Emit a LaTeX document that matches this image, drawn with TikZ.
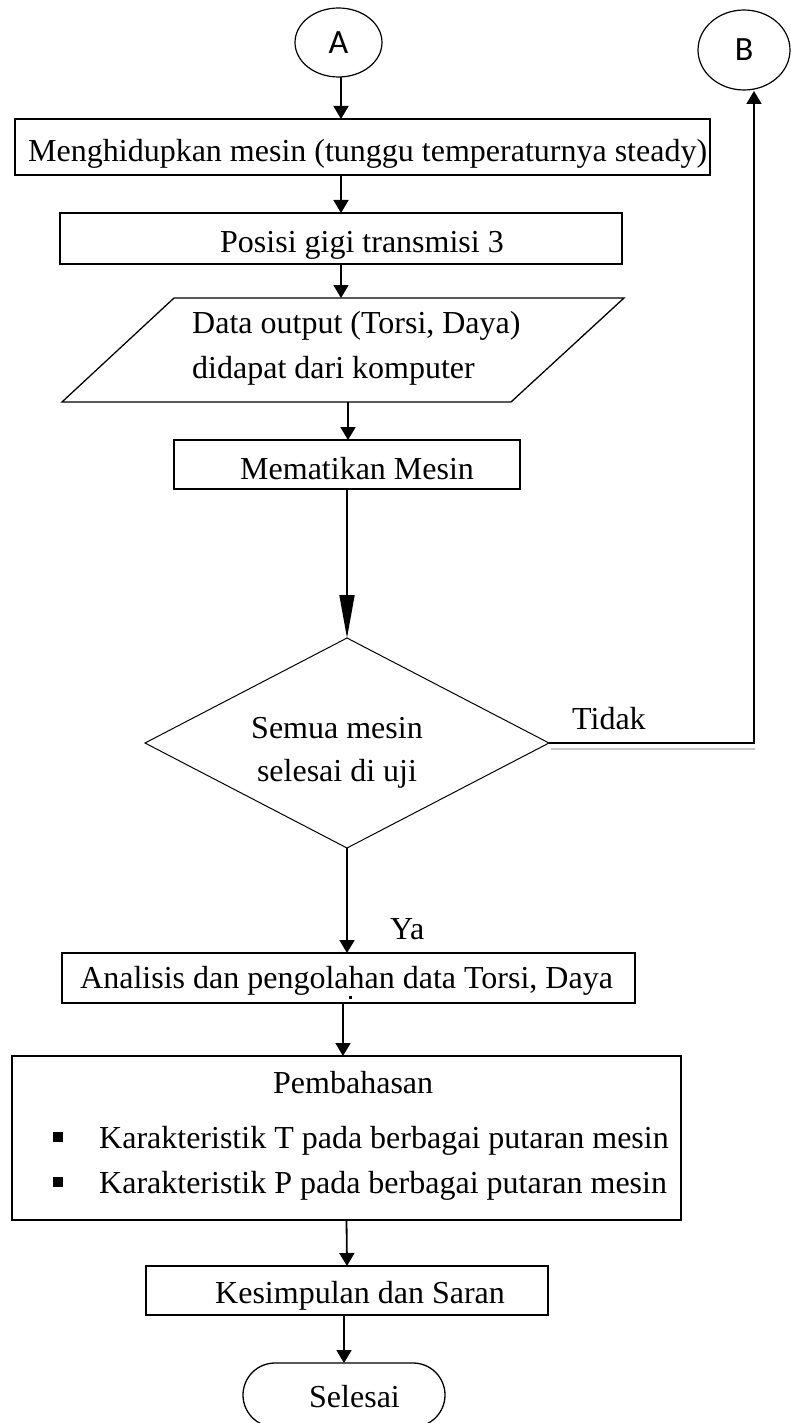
\documentclass[tikz,border=0pt]{standalone}
\usepackage{fontspec}
\setmainfont{Liberation Serif}
\newfontfamily\calib{Carlito}
\usetikzlibrary{shapes.geometric,arrows.meta,calc}
\begin{document}
\begin{tikzpicture}[x=1pt,y=-1pt,
  box/.style={draw, line width=1.6pt, inner sep=0pt, outer sep=0pt},
  ell/.style={draw, ellipse, line width=1.2pt, inner sep=0pt, outer sep=0pt, font=\calib\fontsize{34}{40}\selectfont},
  arr/.style={line width=1.8pt, -{Triangle[length=13pt,width=15pt]}},
  bigarr/.style={line width=1.8pt, -{Triangle[length=43pt,width=15pt]}},
  txt/.style={inner sep=0pt, anchor=base west, font=\fontsize{32}{38}\selectfont},
  txtc/.style={inner sep=0pt, anchor=base, font=\fontsize{32}{38}\selectfont}]
\useasboundingbox (0,0) rectangle (790,1423);
% column coordinates
\coordinate (c341) at (341,0);
\coordinate (c348) at (348,0);
\coordinate (c343) at (343,0);
\coordinate (c344) at (344,0);
\coordinate (c754) at (754,0);
% connectors' shapes
\node[ell, minimum width=87pt, minimum height=69pt] (A) at (338.5,42.5) {A};
\node[ell, minimum width=92pt, minimum height=80pt] (B) at (744,50) {B};
\node[box, minimum width=695pt, minimum height=56pt] (b1) at (362.5,147) {};
\node[txt] (t1) at (28,162) {Menghidupkan mesin (tunggu temperaturnya steady)};
\node[box, minimum width=562pt, minimum height=51pt] (b2) at (341,238.5) {};
\node[txt] (t2) at (220,252) {Posisi gigi transmisi 3};
\node[inner sep=0pt, outer sep=0pt, minimum width=562pt, minimum height=104pt] (para) at (343,350) {};
\draw[line width=1.3pt] ($(para.north west)+(112,0)$) -- (para.north east) -- ($(para.south east)+(-113,0)$) -- (para.south west) -- cycle;
\node[txt] (t3a) at (192,333) {Data output (Torsi, Daya)};
\node[txt] (t3b) at (192,378) {didapat dari komputer};
\node[box, minimum width=346pt, minimum height=49pt] (b3) at (347,464.5) {};
\node[txt] (t4) at (240,479) {Mematikan Mesin};
\node[draw, diamond, line width=1pt, inner sep=0pt, outer sep=0pt, minimum width=404pt, minimum height=210pt] (dia) at (347,743) {};
\node[txtc] (t5a) at (337,738) {Semua mesin};
\node[txtc] (t5b) at (337,781) {selesai di uji};
\node[txt] (tidak) at (572,729) {Tidak};
\node[txt] (ya) at (390,939) {Ya};
\node[box, minimum width=573pt, minimum height=50pt] (b4) at (348.5,978) {};
\node[txt] (t6) at (80,988) {Analisis dan pengolahan data Torsi, Daya};
\fill (349,996) rectangle (352,999);
\node[box, minimum width=669pt, minimum height=164pt] (b5) at (346.5,1138) {};
\node[txt] (t7) at (273,1093) {Pembahasan};
\fill (53,1132) rectangle (63,1142);
\fill (53,1177) rectangle (63,1187);
\node[txt] (t7a) at (99,1148) {Karakteristik T pada berbagai putaran mesin};
\node[txt] (t7b) at (99,1193) {Karakteristik P pada berbagai putaran mesin};
\node[box, minimum width=402pt, minimum height=49pt] (b6) at (347,1290.5) {};
\node[txt] (t8) at (215,1303) {Kesimpulan dan Saran};
\node[draw, line width=1.3pt, rounded corners=32pt, inner sep=0pt, outer sep=0pt, minimum width=202pt, minimum height=64pt] (sel) at (344,1395) {};
\node[txt] (t9) at (309,1407) {Selesai};
% connectors
\draw[arr] (A.south -| c341) -- (b1.north -| c341);
\draw[arr] (b1.south -| c341) -- (b2.north -| c341);
\draw[arr] (b2.south -| c341) -- (para.north -| c341);
\draw[arr] (para.south -| c348) -- (b3.north -| c348);
\draw[bigarr] (b3.south) -- (dia.north);
\draw[arr] (dia.south) -- (dia.south |- b4.north);
\draw[arr] (b4.south -| c343) -- (b5.north -| c343);
\draw[arr] (b5.south) -- (b6.north);
\draw[arr] (b6.south -| c344) -- (sel.north -| c344);
\draw[gray!45, line width=2pt] ($(dia.east)+(2,6)$) -- ($(dia.east -| c754)+(1,6)$);
\draw[arr] (dia.east) -- (dia.east -| c754) -- ($(c754 |- B.south)+(0,1)$);
\end{tikzpicture}
\end{document}
